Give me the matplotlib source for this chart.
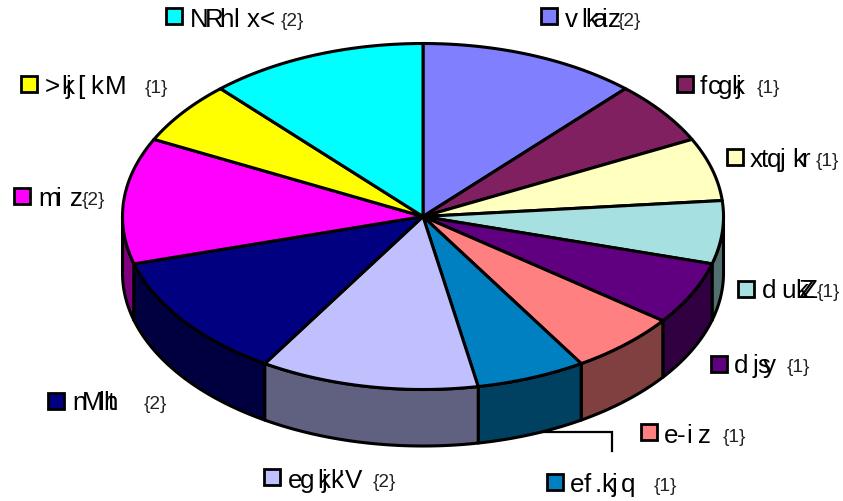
import numpy as np
import matplotlib
matplotlib.use("Agg")
import matplotlib.pyplot as plt
from matplotlib.patches import Polygon, Rectangle

W, H = 843, 502
labels = ["vlkaiz", "fcgkj", "xtqjkr", "dukZZ", "djsy", "e-iz", "ef.kjq", "egkjk'V", "nMlht", "miz", ">kj[kM", "NRhlx<"]
counts = [2, 1, 1, 1, 1, 1, 1, 2, 2, 2, 1, 2]
top_colors = ["#8080FF", "#802060", "#FFFFC0", "#A6E0E0", "#600080", "#FF8080",
              "#0080C0", "#C0C0FF", "#000080", "#FF00FF", "#FFFF00", "#00FFFF"]
side_colors = ["#404080", "#401030", "#808060", "#537070", "#300040", "#804040",
               "#004060", "#606080", "#000040", "#800080", "#808000", "#008080"]

# layout (pixels)
cx, cy, rx, ry, depth = 423, 217.5, 300.5, 173, 56.5
box_xy = [(540, 8), (676, 76), (726, 149), (737, 281), (710, 356), (640, 424),
          (546, 474), (263, 469), (47, 393), (13, 188), (20, 76), (165, 8)]
baseline = [27, 94, 167, 298, 373, 443, 492, 488, 410, 206, 94, 27]
glyph_x = [
    [565, 581, 585, 593, 601, 608],
    [700, 708, 718, 731, 736],
    [750, 761, 767, 780, 792, 801],
    [762, 781, 795, 798, 801],
    [734, 753, 757, 763],
    [664, 677, 686, 698],
    [570, 584, 595, 601, 612, 621],
    [288, 300, 317, 322, 330, 339, 345],
    [72, 82, 98, 103, 108],
    [38, 55, 70],
    [45, 61, 66, 77, 90, 105],
    [190, 205, 219, 233, 247, 260],
]
count_x = [618, 757, 816, 817, 787, 723, 654, 373, 144, 82, 145, 281]

plt.rcParams["font.family"] = ["Liberation Sans", "DejaVu Sans"]
fig = plt.figure(figsize=(W / 100, H / 100), dpi=100, facecolor="white")
ax = fig.add_axes([0, 0, 1, 1])
ax.set_xlim(0, W)
ax.set_ylim(H, 0)
ax.axis("off")

edges = np.cumsum([0] + counts) / sum(counts) * 2 * np.pi


def arc(a, b, n=120):
    t = np.linspace(a, b, n)
    return np.column_stack([cx + rx * np.sin(t), cy - ry * np.cos(t)])


# side wall, visible lower half only (theta from 90 to 270 degrees)
order = sorted(range(len(counts)), key=lambda i: -abs(np.pi - (edges[i] + edges[i + 1]) / 2))
for i in order:
    a = max(edges[i], np.pi / 2)
    b = min(edges[i + 1], 3 * np.pi / 2)
    if b <= a:
        continue
    p = arc(a, b)
    wall = np.vstack([p, (p + [0, depth])[::-1]])
    ax.add_patch(Polygon(wall, closed=True, fc=side_colors[i], ec="black", lw=2.2, joinstyle="round", zorder=2))

# top disc
for i in range(len(counts)):
    p = np.vstack([[cx, cy], arc(edges[i], edges[i + 1])])
    ax.add_patch(Polygon(p, closed=True, fc=top_colors[i], ec="black", lw=2.2, joinstyle="round", zorder=3))

# leader line
ax.plot([540, 612, 612], [433, 433, 452], color="black", lw=1.6, zorder=1, solid_joinstyle="miter")

# legend-like labels
for i, name in enumerate(labels):
    bx, by = box_xy[i]
    ax.add_patch(Rectangle((bx + 1, by + 1), 16, 16, fc=top_colors[i], ec="black", lw=2.0, zorder=4))
    for ch, gx in zip(name, glyph_x[i]):
        ax.text(gx, baseline[i], ch, fontsize=18.7, ha="left", va="baseline", color="black", zorder=5)
    ax.text(count_x[i], baseline[i] - 1, "{%d}" % counts[i], fontsize=13.7, ha="left", va="baseline",
            color="#222222", zorder=5)

fig.savefig("out.png", dpi=100)
